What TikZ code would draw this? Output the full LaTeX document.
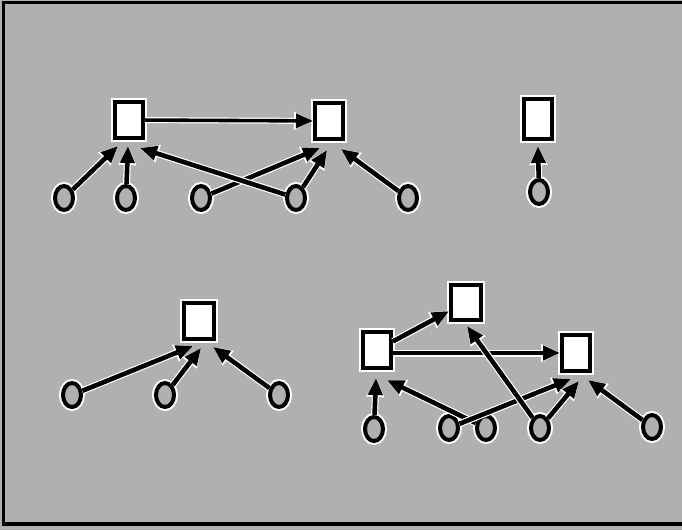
\documentclass[tikz,border=0pt]{standalone}
\usetikzlibrary{arrows.meta,shapes.geometric}
\definecolor{bggray}{RGB}{176,176,176}
\tikzset{
  box/.style={draw=black, fill=white, line width=4pt, inner sep=0pt,
    minimum width=28pt, minimum height=36pt,
    preaction={draw=white, line width=8pt}},
  var/.style={draw=black, fill=bggray, line width=4pt, inner sep=0pt, ellipse,
    minimum width=18pt, minimum height=24pt,
    preaction={draw=white, line width=8pt}},
  arr/.style={line width=4.6pt, -{Triangle[length=17pt,width=14pt]},
    preaction={draw=white, line width=7pt, -{Triangle[length=19pt,width=17pt]}}},
  thinarr/.style={line width=3.6pt, -{Triangle[length=17pt,width=14pt]},
    preaction={draw=white, line width=6pt, -{Triangle[length=19pt,width=17pt]}}}
}
\begin{document}
\begin{tikzpicture}[x=1pt,y=-1pt]
\useasboundingbox (0,0) rectangle (682,530);
\fill[bggray] (0,0) rectangle (682,530);
\draw[line width=3.5pt] (682,2.5) -- (3.5,2.5) -- (3.5,524) -- (682,524);

% group 1
\node[box] (A) at (129,120) {};
\node[box] (B) at (329,121) {};
\node[var] (c1) at (64,198) {};
\node[var] (c2) at (126,198) {};
\node[var] (c3) at (201,198) {};
\node[var] (c4) at (296,198) {};
\node[var] (c5) at (408,198) {};
\coordinate (tA1) at (118,146);
\coordinate (tA2) at (128,146);
\coordinate (tA3) at (140,148);
\coordinate (tB1) at (320,148);
\coordinate (tB2) at (327,150);
\coordinate (tB3) at (341,149);
\draw[thinarr] (A) -- (B);
\draw[arr] (c1) -- (tA1);
\draw[arr] (c2) -- (tA2);
\draw[arr] (c3) -- (tB1);
\draw[arr] (c4) -- (tA3);
\draw[arr] (c4) -- (tB2);
\draw[arr] (c5) -- (tB3);

% group 2
\node[box, minimum height=40pt] (S) at (538,119) {};
\node[var] (t) at (539,192) {};
\coordinate (tS) at (538,146);
\draw[arr] (t) -- (tS);

% group 3
\node[box, minimum width=30pt] (T) at (199,321) {};
\node[var] (e1) at (72,395) {};
\node[var] (e2) at (165,395) {};
\node[var] (e3) at (279,395) {};
\coordinate (tT1) at (193,346);
\coordinate (tT2) at (201,348);
\coordinate (tT3) at (213,347);
\draw[arr] (e1) -- (tT1);
\draw[arr] (e2) -- (tT2);
\draw[arr] (e3) -- (tT3);

% group 4
\node[box] (P) at (377,350) {};
\node[box, minimum width=30pt, minimum height=35pt] (Q) at (466,302) {};
\node[box] (R) at (576,353) {};
\node[var] (d1) at (374,429) {};
\node[var] (d2) at (449,428) {};
\node[var] (d3) at (486,428) {};
\node[var] (d4) at (540,428) {};
\node[var] (d5) at (652,427) {};
\coordinate (tP1) at (376,378);
\coordinate (tP2) at (387,380);
\coordinate (tQ) at (467,326);
\coordinate (tR1) at (571,379);
\coordinate (tR2) at (579,381);
\coordinate (tR3) at (588,380);
\draw[arr] (P) -- (Q);
\draw[arr] (P.east |- 0,353) -- (R.west |- 0,353);
\draw[arr] (d1) -- (tP1);
\draw[arr] (d3) -- (tP2);
\draw[arr] (d2) -- (tR1);
\draw[arr] (d4) -- (tQ);
\draw[arr] (d4) -- (tR2);
\draw[arr] (d5) -- (tR3);
\end{tikzpicture}
\end{document}
